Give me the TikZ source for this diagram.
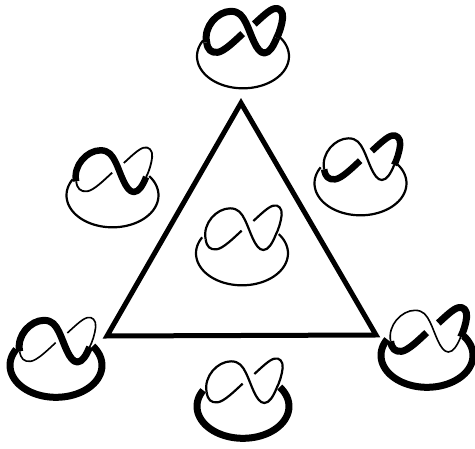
\documentclass[tikz,border=0pt]{standalone}
\newcommand{\knotmotif}[5]{%
\begin{scope}[shift={(185+#1,190+#2)},x=0.3333pt,y=-0.3333pt,line cap=butt,line join=round]
\draw[line width=#5pt] plot[smooth,domain=210:-37,samples=60,variable=\t] ({171+138*cos(\t)},{190+96*sin(\t)});
\draw[line width=#3pt] (62,148) .. controls (52,100) and (95,55) .. (135,55) .. controls (160,55) and (170,70) .. (180,90) .. controls (195,120) and (210,180) .. (235,180) .. controls (250,180) and (262,160) .. (272,135);
\draw[line width=#4pt] (170,122) .. controls (145,145) and (115,175) .. (95,178) .. controls (75,180) and (65,170) .. (62,148);
\draw[line width=#4pt] (205,93) .. controls (225,75) and (250,50) .. (265,47) .. controls (280,43) and (292,55) .. (290,75) .. controls (288,95) and (280,120) .. (272,135);
\end{scope}}
\begin{document}
\begin{tikzpicture}[x=1pt,y=-1pt]
\useasboundingbox (0,0) rectangle (475,449);
\fill[white] (0,0) rectangle (475,449);
\draw[line width=5pt,line join=miter] (241,103) -- (376,335) -- (107,336) -- cycle;
\knotmotif{0}{0}{2.2}{2.2}{2.2}
\knotmotif{1}{-197}{7}{7}{2.2}
\knotmotif{118.5}{-70}{2.2}{6.5}{2.2}
\knotmotif{-129.5}{-58}{6.5}{1.8}{2.2}
\knotmotif{-186}{112}{7}{1.6}{7}
\knotmotif{185}{102}{1.6}{7}{7}
\knotmotif{1}{153}{2.2}{2.2}{7}
\end{tikzpicture}
\end{document}
